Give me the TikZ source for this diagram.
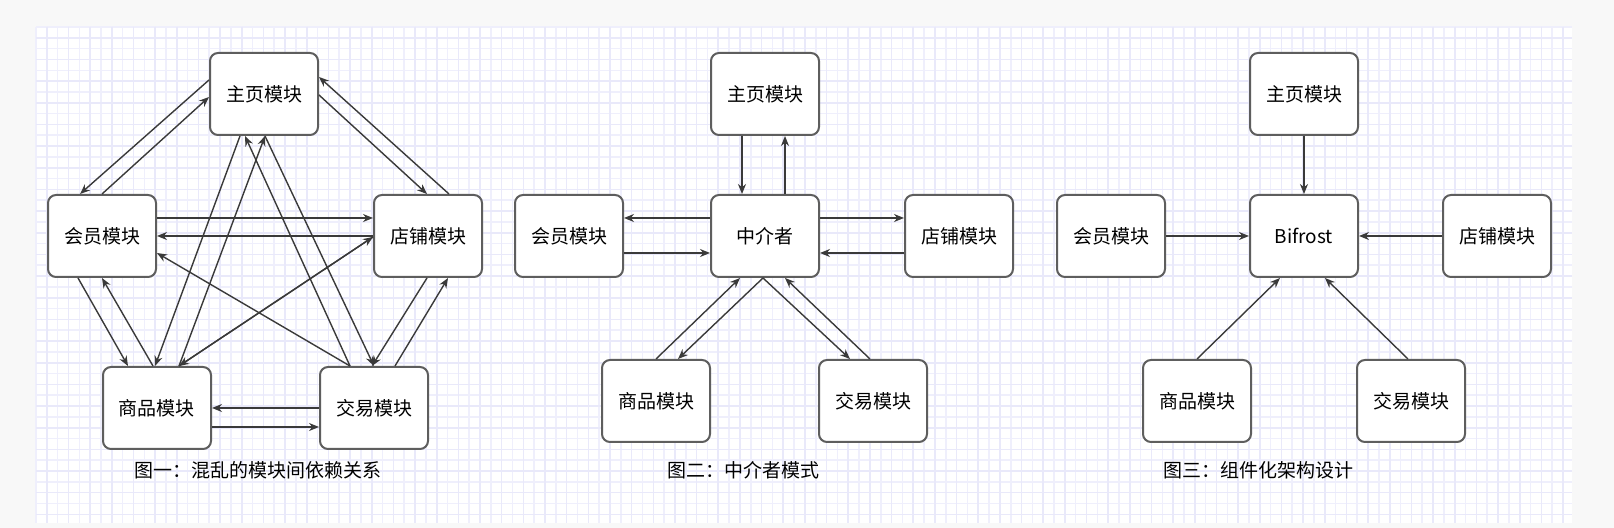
\documentclass[tikz,border=0pt]{standalone}
\usepackage{fontspec}
\setmainfont{Noto Sans CJK SC}
\usetikzlibrary{arrows.meta,calc}
\definecolor{pagebg}{HTML}{F8F8F8}
\definecolor{gridminor}{HTML}{EFEFFC}
\definecolor{gridmajor}{HTML}{E9E9FA}
\definecolor{boxline}{HTML}{5E5E5E}
\definecolor{edgeline}{HTML}{3A3A3A}

\begin{document}
\begin{tikzpicture}[x=0.5pt,y=-0.5pt,
    module/.style={draw=boxline,line width=1pt,fill=white,rounded corners=4pt,
        minimum width=54pt,minimum height=41pt,font=\fontsize{9.5}{11}\selectfont},
    edge/.style={draw=edgeline,line width=0.7pt,-{Stealth[length=5pt,width=4pt]}},
    caption/.style={font=\fontsize{9.5}{11}\selectfont}]
    \useasboundingbox[fill=pagebg](0,0) rectangle (1614,528);
    % grid paper
    \fill[white](36,27) rectangle (1572,523);
    \foreach \i in {0,...,141}{
        \draw[gridminor,line width=0.8pt](36+10.83*\i,27)--(36+10.83*\i,523);
    }
    \foreach \j in {0,...,45}{
        \draw[gridminor,line width=0.8pt](36,27+10.83*\j)--(1572,27+10.83*\j);
    }
    \foreach \i in {1,3,...,141}{
        \draw[gridmajor,line width=0.8pt](36+10.83*\i,27)--(36+10.83*\i,523);
    }
    \foreach \j in {1,3,...,45}{
        \draw[gridmajor,line width=0.8pt](36,27+10.83*\j)--(1572,27+10.83*\j);
    }

    % 图一
    \node[module](home1) at (264,94){主页模块};
    \node[module](member1) at (102,236){会员模块};
    \node[module](shop1) at (428,236){店铺模块};
    \node[module](goods1) at (157,408){商品模块};
    \node[module](trade1) at (374,408){交易模块};
    \foreach \a/\ax/\ay/\b/\bx/\by in {home1.west/0/-14/member1.north/-22/0,
        member1.north/0/0/home1.west/0/3,
        home1.east/0/1/shop1.north/-1/0,
        shop1.north/21/0/home1.east/0/-17,
        member1.east/0/-18/shop1.west/0/-18,
        shop1.west/0/0/member1.east/0/0,
        shop1.west/0/1/goods1.north/22/0,
        goods1.north/22/0/shop1.west/0/1,
        member1.south/-24/0/goods1.north/-29/0,
        goods1.north/-4/0/member1.south/0/0,
        home1.south/-24/0/goods1.north/-2/0,
        goods1.north/22/0/home1.south/1/0,
        trade1.north/-24/0/home1.south/-19/0,
        home1.south/1/0/trade1.north/0/0,
        trade1.north/-24/0/member1.east/0/17,
        shop1.south/-1/0/trade1.north/-2/0,
        trade1.north/21/0/shop1.south/20/0,
        trade1.west/0/0/goods1.east/0/0,
        goods1.east/0/19/trade1.west/0/19}{
        \draw[edge]($(\a)+(\ax,\ay)$)--($(\b)+(\bx,\by)$);
    }
    \node[caption](cap1) at (258,470){图一：混乱的模块间依赖关系};

    % 图二
    \node[module](home2) at (765,94){主页模块};
    \node[module](member2) at (569,236){会员模块};
    \node[module](mediator) at (765,236){中介者};
    \node[module](shop2) at (959,236){店铺模块};
    \node[module](goods2) at (656,401){商品模块};
    \node[module](trade2) at (873,401){交易模块};
    \foreach \a/\ax/\ay/\b/\bx/\by in {home2.south/-23/0/mediator.north/-23/0,
        mediator.north/20/0/home2.south/20/0,
        mediator.west/0/-18/member2.east/0/-18,
        member2.east/0/17/mediator.west/0/17,
        mediator.east/0/-18/shop2.west/0/-18,
        shop2.west/0/17/mediator.east/0/17,
        goods2.north/0/0/mediator.south/-25/0,
        mediator.south/-2/0/goods2.north/22/0,
        mediator.south/-2/0/trade2.north/-23/0,
        trade2.north/-3/0/mediator.south/20/0}{
        \draw[edge]($(\a)+(\ax,\ay)$)--($(\b)+(\bx,\by)$);
    }
    \node[caption](cap2) at (743,470){图二：中介者模式};

    % 图三
    \node[module](home3) at (1304,94){主页模块};
    \node[module](member3) at (1111,236){会员模块};
    \node[module](bifrost) at (1304,236){Bifrost};
    \node[module](shop3) at (1497,236){店铺模块};
    \node[module](goods3) at (1197,401){商品模块};
    \node[module](trade3) at (1411,401){交易模块};
    \foreach \a/\ax/\ay/\b/\bx/\by in {home3.south/0/0/bifrost.north/0/0,
        member3.east/0/0/bifrost.west/0/0,
        shop3.west/0/0/bifrost.east/0/0,
        goods3.north/0/0/bifrost.south/-24/0,
        trade3.north/-3/0/bifrost.south/21/0}{
        \draw[edge]($(\a)+(\ax,\ay)$)--($(\b)+(\bx,\by)$);
    }
    \node[caption](cap3) at (1258,470){图三：组件化架构设计};
\end{tikzpicture}
\end{document}
